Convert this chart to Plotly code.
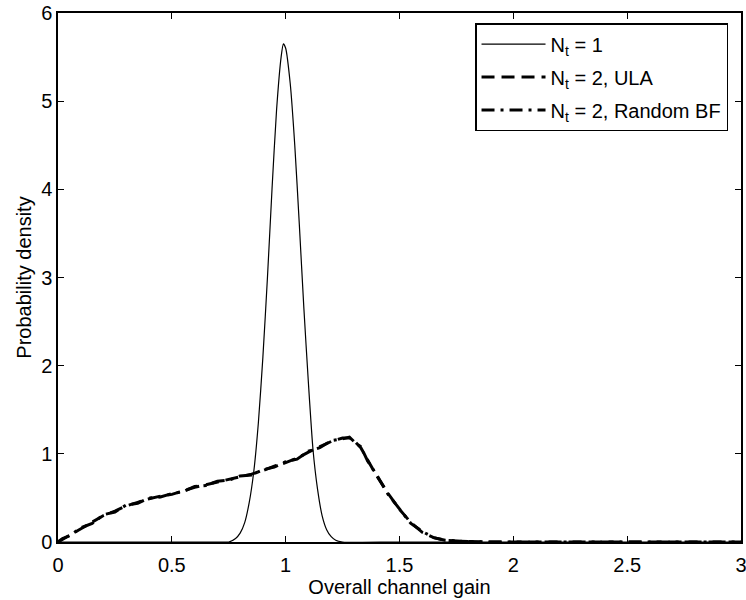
import plotly.graph_objects as go

# N_t = 1 (narrow peak)
x_nt1 = [0.0, 0.70, 0.75, 0.78, 0.80, 0.82, 0.84, 0.86, 0.88, 0.90, 0.92, 0.94, 0.96, 0.98, 0.99,
         1.00, 1.02, 1.04, 1.06, 1.08, 1.10, 1.12, 1.14, 1.16, 1.18, 1.20, 1.22, 1.25, 1.5, 3.0]
y_nt1 = [0.0, 0.0, 0.0, 0.04, 0.10, 0.22, 0.45, 0.80, 1.35, 2.10, 3.00, 4.00, 4.90, 5.50, 5.65,
         5.60, 5.20, 4.50, 3.60, 2.65, 1.80, 1.05, 0.60, 0.30, 0.14, 0.06, 0.02, 0.0, 0.0, 0.0]

# N_t = 2, ULA
x_ula = [0.0, 0.02, 0.05, 0.10, 0.15, 0.20, 0.25, 0.30, 0.35, 0.40, 0.45, 0.50, 0.55, 0.60, 0.65,
         0.70, 0.75, 0.80, 0.85, 0.90, 0.95, 1.00, 1.05, 1.10, 1.15, 1.20, 1.25, 1.28, 1.30, 1.33,
         1.36, 1.40, 1.45, 1.50, 1.55, 1.60, 1.65, 1.70, 1.80, 1.90, 2.2, 2.6, 3.0]
y_ula = [0.0, 0.03, 0.08, 0.15, 0.22, 0.30, 0.35, 0.41, 0.45, 0.49, 0.52, 0.54, 0.58, 0.62, 0.65,
         0.68, 0.71, 0.74, 0.77, 0.81, 0.86, 0.90, 0.95, 1.02, 1.08, 1.14, 1.18, 1.18, 1.15, 1.07,
         0.93, 0.75, 0.55, 0.37, 0.22, 0.11, 0.05, 0.02, 0.005, 0.0, 0.0, 0.0, 0.0]

# N_t = 2, Random BF
x_rbf = [0.0, 0.02, 0.05, 0.10, 0.15, 0.20, 0.25, 0.30, 0.35, 0.40, 0.45, 0.50, 0.55, 0.60, 0.65,
         0.70, 0.75, 0.80, 0.85, 0.90, 0.95, 1.00, 1.05, 1.10, 1.15, 1.20, 1.25, 1.28, 1.30, 1.33,
         1.36, 1.40, 1.45, 1.50, 1.55, 1.60, 1.65, 1.70, 1.80, 1.90, 2.2, 2.6, 3.0]
y_rbf = [0.0, 0.04, 0.07, 0.16, 0.21, 0.31, 0.34, 0.42, 0.44, 0.50, 0.51, 0.55, 0.57, 0.63, 0.64,
         0.69, 0.70, 0.75, 0.76, 0.82, 0.85, 0.91, 0.94, 1.03, 1.07, 1.15, 1.17, 1.19, 1.14, 1.08,
         0.92, 0.76, 0.54, 0.38, 0.21, 0.12, 0.05, 0.02, 0.005, 0.0, 0.0, 0.0, 0.0]

x_ticks = [0, 0.5, 1, 1.5, 2, 2.5, 3]
x_ticklabels = ["0", "0.5", "1", "1.5", "2", "2.5", "3"]
y_ticks = [0, 1, 2, 3, 4, 5, 6]

FONT = "Liberation Sans, Arial, Helvetica, sans-serif"
FS = 20

fig = go.Figure()
fig.add_trace(go.Scatter(x=x_nt1, y=y_nt1, mode="lines", name="N<sub>t</sub> = 1",
                         line=dict(color="black", width=1.2, shape="spline", smoothing=0.6),
                         legendgroup="a"))
fig.add_trace(go.Scatter(x=x_ula, y=y_ula, mode="lines", name="N<sub>t</sub> = 2, ULA",
                         line=dict(color="black", width=3, dash="13px,7px"),
                         legendgroup="b"))
fig.add_trace(go.Scatter(x=x_rbf, y=y_rbf, mode="lines", name="N<sub>t</sub> = 2, Random BF",
                         line=dict(color="black", width=3, dash="13px,6px,3px,6px"),
                         legendgroup="c"))

axis_common = dict(showline=True, linecolor="black", linewidth=1.5, mirror="ticks",
                   ticks="inside", ticklen=6, tickwidth=1.2, tickcolor="black",
                   showgrid=False, zeroline=False, ticklabeloverflow="allow",
                   tickfont=dict(family=FONT, size=FS, color="black"))

fig.update_xaxes(range=[0, 3], tickvals=x_ticks, ticktext=x_ticklabels, ticklabelstandoff=4,
                 title=dict(text="Overall channel gain", font=dict(family=FONT, size=FS, color="black"),
                            standoff=4),
                 **axis_common)
fig.update_yaxes(range=[0, 6], tickvals=y_ticks,
                 title=dict(text="Probability density", font=dict(family=FONT, size=FS, color="black"),
                            standoff=4),
                 **axis_common)

fig.update_layout(
    width=746, height=600,
    margin=dict(l=58, r=5, t=13, b=58, autoexpand=False),
    paper_bgcolor="white", plot_bgcolor="white",
    showlegend=True,
    legend=dict(x=0.981, y=0.981, xanchor="right", yanchor="top",
                bgcolor="white", bordercolor="black", borderwidth=1.5,
                font=dict(family=FONT, size=FS, color="black"),
                itemwidth=64, tracegroupgap=4),
)

fig.write_html("out.html")
